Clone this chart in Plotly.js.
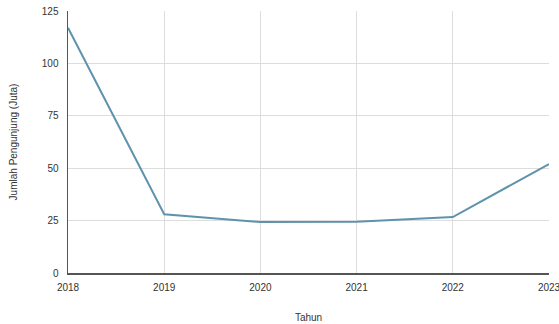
<!DOCTYPE html>
<html>
<head>
<meta charset="utf-8">
<script src="https://cdn.plot.ly/plotly-3.0.1.min.js"></script>
<style>html,body{margin:0;padding:0;background:#fff;}#chart{width:559px;height:324px;}</style>
</head>
<body>
<div id="chart"></div>
<script>
const years = [2018, 2019, 2020, 2021, 2022, 2023];
const visitors = [117, 28, 24.3, 24.5, 26.7, 52];
const yTicks = [0, 25, 50, 75, 100, 125];

Plotly.newPlot('chart', [{
  x: years,
  y: visitors,
  type: 'scatter',
  mode: 'lines',
  line: {color: '#5f93ac', width: 2}
}], {
  width: 559,
  height: 324,
  margin: {l: 68, r: 10, t: 11, b: 51},
  paper_bgcolor: '#fff',
  plot_bgcolor: '#fff',
  showlegend: false,
  font: {family: 'Liberation Sans, Arial, sans-serif', size: 10, color: '#333'},
  xaxis: {
    range: [2018, 2023],
    tickvals: years,
    ticktext: years.map(String),
    ticklabeloverflow: 'allow',
    showgrid: true,
    gridcolor: '#dddddd',
    showline: true,
    linecolor: '#555',
    linewidth: 1.5,
    zeroline: false,
    ticks: '',
    ticklabelstandoff: 4,
    title: {text: 'Tahun', font: {size: 10, color: '#333'}, standoff: 22}
  },
  yaxis: {
    range: [0, 125],
    tickvals: yTicks,
    showgrid: true,
    gridcolor: '#dddddd',
    showline: true,
    linecolor: '#555',
    linewidth: 1.5,
    zeroline: false,
    ticks: '',
    ticklabelstandoff: 6,
    title: {text: 'Jumlah Pengunjung (Juta)', font: {size: 10, color: '#333'}, standoff: 22}
  }
}, {displayModeBar: false, staticPlot: true});
</script>
</body>
</html>
